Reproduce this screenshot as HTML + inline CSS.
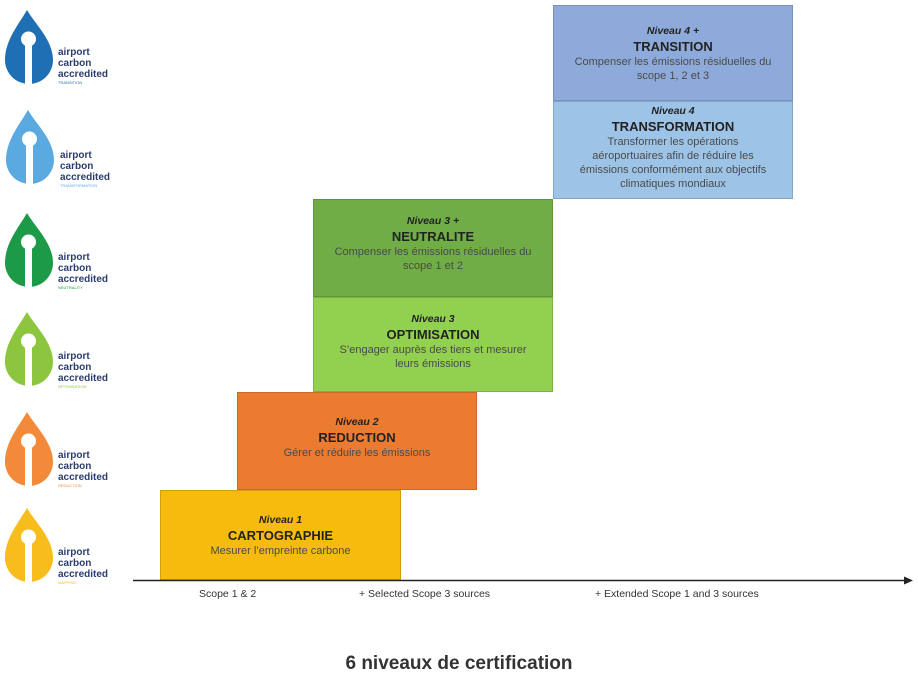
<!DOCTYPE html>
<html><head><meta charset="utf-8"><style>
body{margin:0;width:918px;height:674px;background:#fff;font-family:"Liberation Sans",sans-serif;position:relative;overflow:hidden}
.b{position:absolute;box-sizing:border-box;text-align:center;color:#333;font-size:11px;line-height:14px;border:1px solid rgba(0,0,0,0.15)}
.b i{display:block;font-weight:bold;font-size:10.5px;color:#222;margin-top:6px}
.b b{display:block;font-size:13px;line-height:17px;color:#222}
.b span{display:block;color:#4a4a4a}
.ax{position:absolute;font-size:10.5px;color:#333;top:588px}
</style></head><body>
<svg width="130" height="600" style="position:absolute;left:0;top:0" font-family="Liberation Sans, sans-serif">
<defs><g id="d"><path d="M22 0 C30 14 48 30 48 50 A24 24 0 0 1 0 50 C0 30 14 14 22 0 Z"/><g fill="#fff"><rect x="20" y="28" width="7" height="47"/><circle cx="23.5" cy="29" r="7.5"/></g></g></defs>
<g transform="translate(5,10)" fill="#1f6fb5"><use href="#d"/></g>
<g transform="translate(6,110)" fill="#5aa9e0"><use href="#d"/></g>
<g transform="translate(5,213)" fill="#1c9a47"><use href="#d"/></g>
<g transform="translate(5,312)" fill="#8cc63f"><use href="#d"/></g>
<g transform="translate(5,412)" fill="#f28a3a"><use href="#d"/></g>
<g transform="translate(5,508)" fill="#f6bd1c"><use href="#d"/></g>
<g fill="#2b3d6e" font-size="10" font-weight="bold">
<text x="58" y="55">airport</text><text x="58" y="66">carbon</text><text x="58" y="77">accredited</text>
<text x="60" y="158">airport</text><text x="60" y="169">carbon</text><text x="60" y="180">accredited</text>
<text x="58" y="260">airport</text><text x="58" y="271">carbon</text><text x="58" y="282">accredited</text>
<text x="58" y="359">airport</text><text x="58" y="370">carbon</text><text x="58" y="381">accredited</text>
<text x="58" y="458">airport</text><text x="58" y="469">carbon</text><text x="58" y="480">accredited</text>
<text x="58" y="555">airport</text><text x="58" y="566">carbon</text><text x="58" y="577">accredited</text>
</g>
<g font-size="4">
<text x="58" y="84" fill="#1f6fb5">TRANSITION</text>
<text x="60" y="187" fill="#5aa9e0">TRANSFORMATION</text>
<text x="58" y="289" fill="#1c9a47">NEUTRALITY</text>
<text x="58" y="388" fill="#8cc63f">OPTIMISATION</text>
<text x="58" y="487" fill="#f28a3a">REDUCTION</text>
<text x="58" y="584" fill="#f6bd1c">MAPPING</text>
</g>
</svg>
<div class="b" style="left:160px;top:490px;width:241px;height:90px;background:#f7bb0e"><i style="margin-top:22px">Niveau 1</i><b>CARTOGRAPHIE</b><span>Mesurer l’empreinte carbone</span></div>
<div class="b" style="left:237px;top:392px;width:240px;height:98px;background:#ec7b32"><i style="margin-top:22px">Niveau 2</i><b>REDUCTION</b><span>Gérer et réduire les émissions</span></div>
<div class="b" style="left:313px;top:297px;width:240px;height:95px;background:#92d050"><i style="margin-top:14px">Niveau 3</i><b>OPTIMISATION</b><span>S’engager auprès des tiers et mesurer<br>leurs émissions</span></div>
<div class="b" style="left:313px;top:199px;width:240px;height:98px;background:#70ad47"><i style="margin-top:14px">Niveau 3 +</i><b>NEUTRALITE</b><span>Compenser les émissions résiduelles du<br>scope 1 et 2</span></div>
<div class="b" style="left:553px;top:101px;width:240px;height:98px;background:#9dc3e6"><i style="margin-top:2px">Niveau 4</i><b>TRANSFORMATION</b><span>Transformer les opérations<br>aéroportuaires afin de réduire les<br>émissions conformément aux objectifs<br>climatiques mondiaux</span></div>
<div class="b" style="left:553px;top:5px;width:240px;height:96px;background:#8eaadb"><i style="margin-top:18px">Niveau 4 +</i><b>TRANSITION</b><span>Compenser les émissions résiduelles du<br>scope 1, 2 et 3</span></div>
<svg width="918" height="20" style="position:absolute;left:0;top:571px"><line x1="133" y1="9.5" x2="906" y2="9.5" stroke="#222" stroke-width="1.5"/><path d="M913 9.5 L904 5.5 L904 13.5 Z" fill="#222"/></svg>
<div class="ax" style="left:199px">Scope 1 &amp; 2</div>
<div class="ax" style="left:359px">+ Selected Scope 3 sources</div>
<div class="ax" style="left:595px">+ Extended Scope 1 and 3 sources</div>
<div style="position:absolute;left:0;width:918px;top:653px;text-align:center;font-size:19px;font-weight:bold;color:#333">6 niveaux de certification</div>
</body></html>
